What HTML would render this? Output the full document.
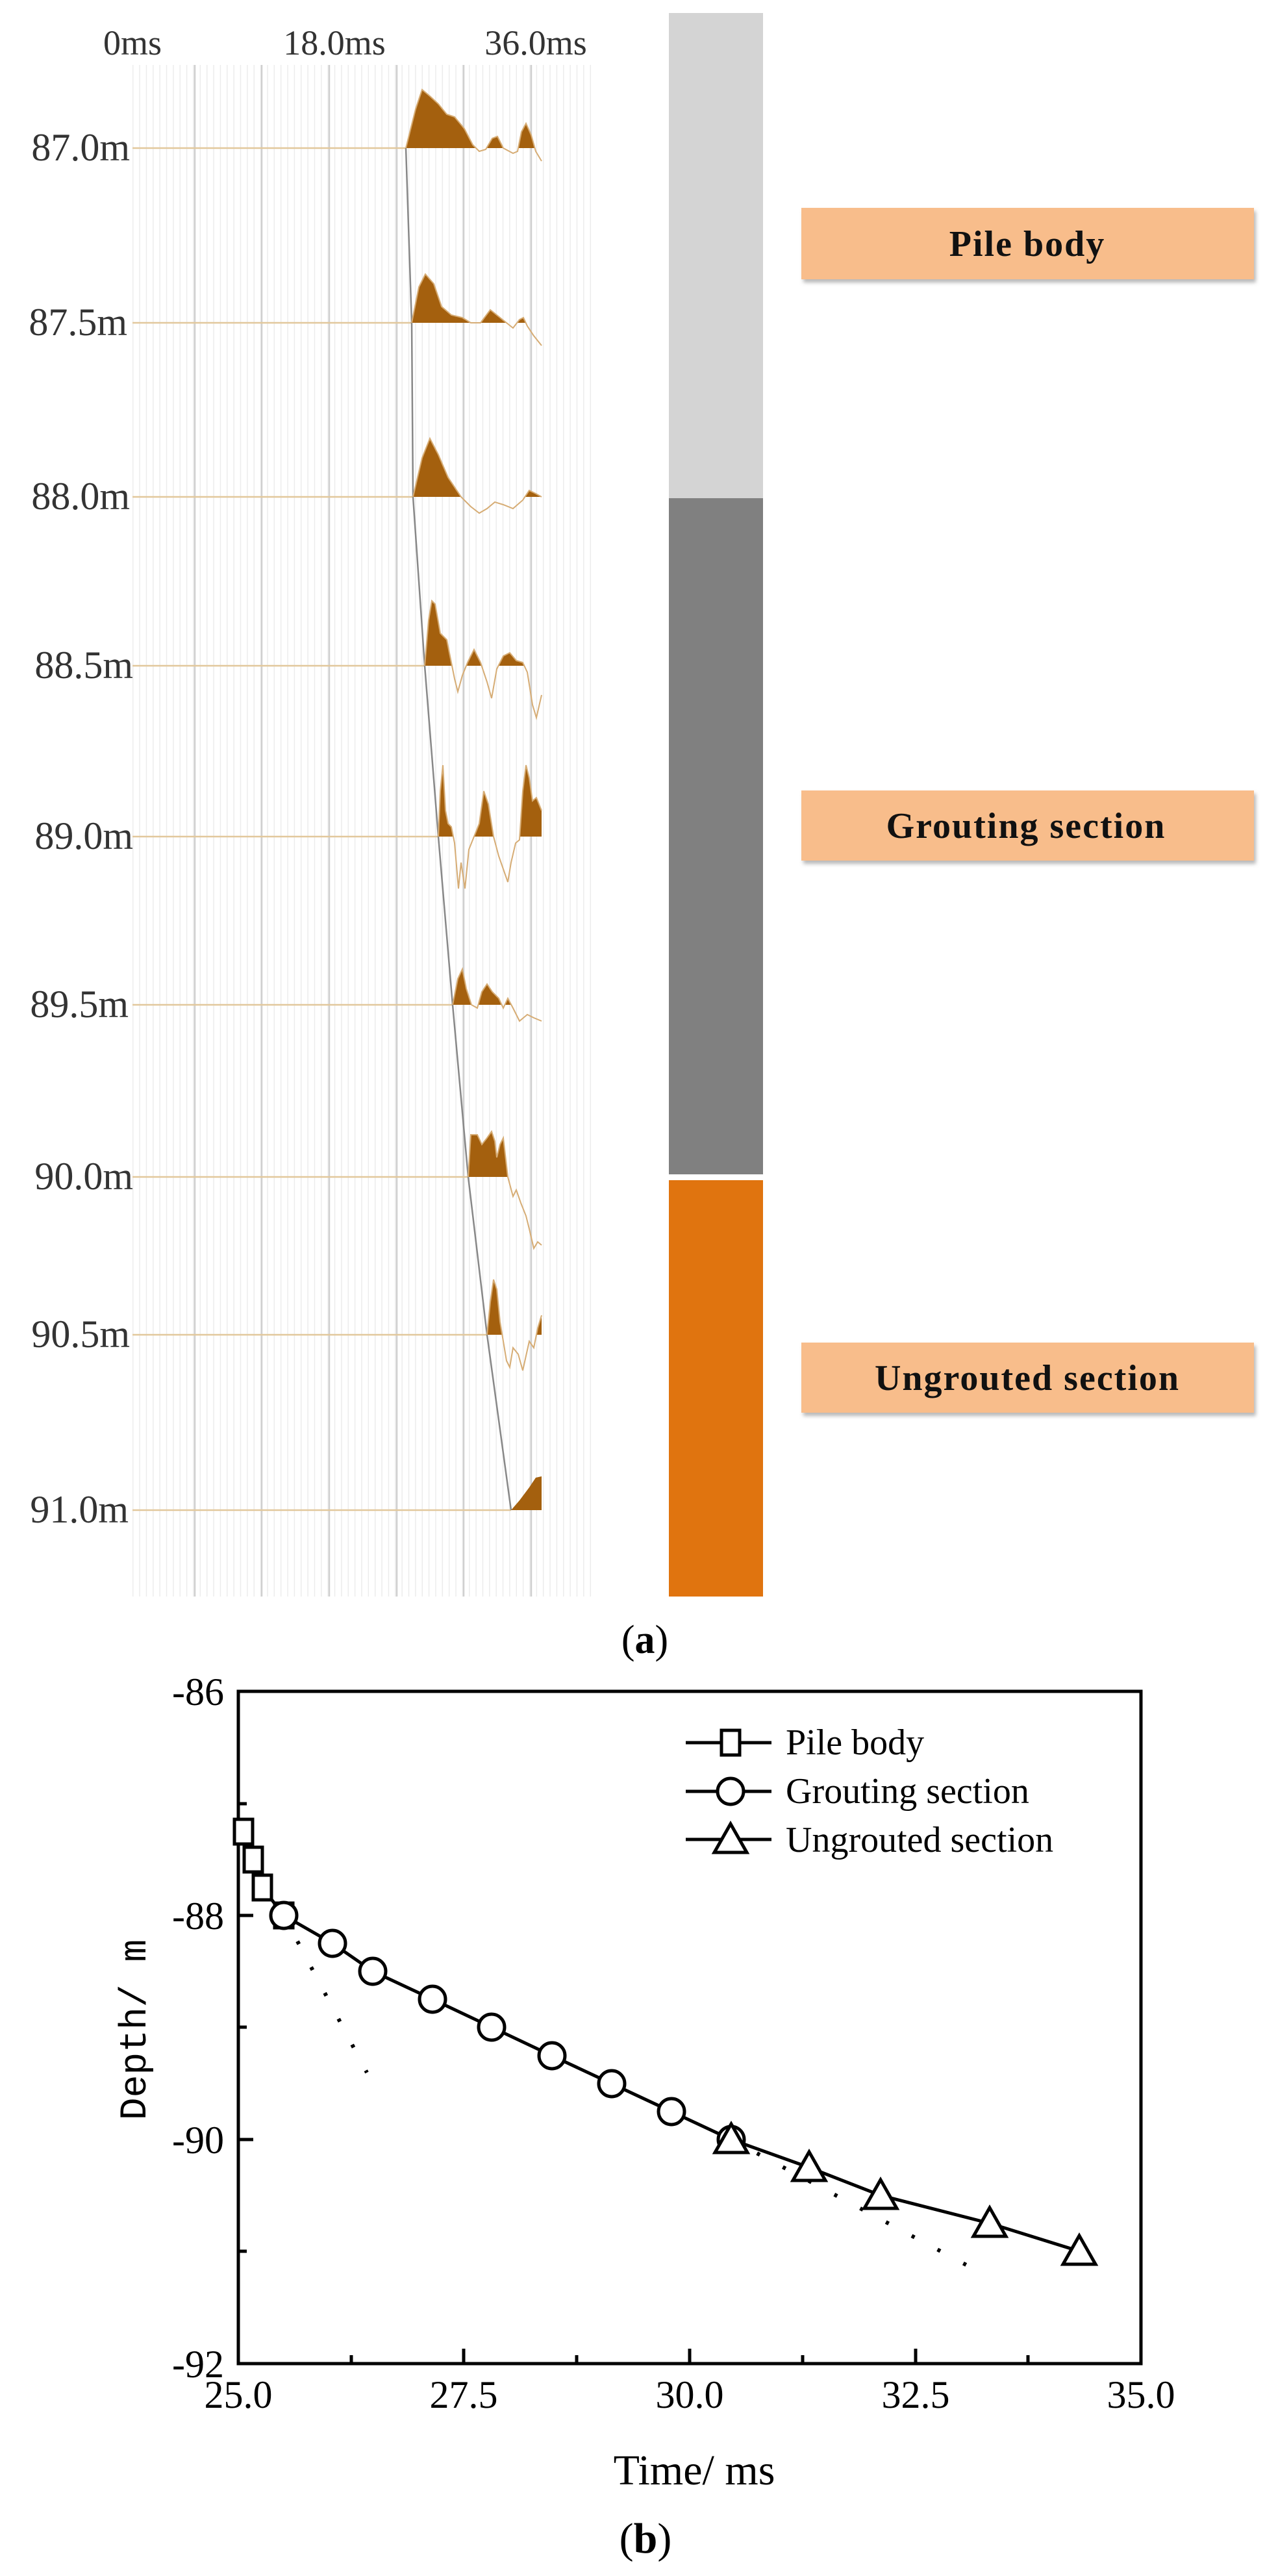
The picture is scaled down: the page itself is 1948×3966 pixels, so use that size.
<!DOCTYPE html>
<html><head><meta charset="utf-8"><style>
html,body{margin:0;padding:0;background:#fff}
svg{display:block}
</style></head><body>
<svg width="1948" height="3966" viewBox="0 0 1948 3966" xmlns="http://www.w3.org/2000/svg">
<defs>
<pattern id="minor" x="204" y="0" width="10.36" height="10" patternUnits="userSpaceOnUse">
<rect x="0" y="0" width="1.5" height="10" fill="#ececec"/>
</pattern>
<filter id="sh" x="-5%" y="-20%" width="115%" height="160%"><feDropShadow dx="3" dy="5" stdDeviation="3" flood-color="#888" flood-opacity="0.6"/></filter>
</defs>
<rect x="204" y="100" width="708" height="2358" fill="url(#minor)"/>
<g stroke="#cfcfcf" stroke-width="2.5">
<line x1="300" y1="100" x2="300" y2="2458"/><line x1="403" y1="100" x2="403" y2="2458"/>
<line x1="507" y1="100" x2="507" y2="2458"/><line x1="611" y1="100" x2="611" y2="2458"/>
<line x1="714" y1="100" x2="714" y2="2458"/><line x1="818" y1="100" x2="818" y2="2458"/>
</g>
<g font-family="Liberation Serif, serif" font-size="54" fill="#333">
<text x="204" y="84" text-anchor="middle">0ms</text>
<text x="515" y="84" text-anchor="middle">18.0ms</text>
<text x="825" y="84" text-anchor="middle">36.0ms</text>
</g>
<g font-family="Liberation Serif, serif" font-size="60" fill="#333" text-anchor="end">
<text x="200" y="247">87.0m</text><text x="196" y="516">87.5m</text>
<text x="200" y="784">88.0m</text><text x="205" y="1044">88.5m</text>
<text x="205" y="1307">89.0m</text><text x="198" y="1566">89.5m</text>
<text x="205" y="1831">90.0m</text><text x="200" y="2074">90.5m</text>
<text x="198" y="2344">91.0m</text>
</g>
<g stroke="#e2c89c" stroke-width="2.5">
<line x1="204" y1="228" x2="625" y2="228"/><line x1="204" y1="497" x2="634" y2="497"/>
<line x1="204" y1="765" x2="636" y2="765"/><line x1="204" y1="1025" x2="654" y2="1025"/>
<line x1="204" y1="1288" x2="675" y2="1288"/><line x1="204" y1="1547" x2="697" y2="1547"/>
<line x1="204" y1="1812" x2="721" y2="1812"/><line x1="204" y1="2055" x2="750" y2="2055"/>
<line x1="204" y1="2325" x2="787" y2="2325"/>
</g>
<polyline fill="none" stroke="#888" stroke-width="2.5" points="625,228 634,497 636,765 654,1025 675,1288 697,1547 721,1812 750,2055 787,2325"/>
<clipPath id="c1"><rect x="600" y="100" width="240" height="128"/></clipPath>
<clipPath id="c2"><rect x="600" y="370" width="240" height="127"/></clipPath>
<clipPath id="c3"><rect x="600" y="640" width="240" height="125"/></clipPath>
<clipPath id="c4"><rect x="600" y="900" width="240" height="125"/></clipPath>
<clipPath id="c5"><rect x="600" y="1150" width="240" height="138"/></clipPath>
<clipPath id="c6"><rect x="600" y="1450" width="240" height="97"/></clipPath>
<clipPath id="c7"><rect x="600" y="1700" width="240" height="112"/></clipPath>
<clipPath id="c8"><rect x="600" y="1950" width="240" height="105"/></clipPath>
<clipPath id="c9"><rect x="600" y="2250" width="240" height="75"/></clipPath>
<g fill="#a4600e">
<polygon clip-path="url(#c1)" points="625,228 640,168 650,138 662,148 675,160 688,176 700,180 715,198 728,223 738,233 748,230 758,213 766,210 775,228 790,236 797,233 803,203 810,190 818,208 825,233 834,248 834,228"/>
<polygon clip-path="url(#c2)" points="634,497 645,442 655,422 668,437 680,472 695,485 712,489 725,497 740,497 755,477 765,485 780,497 790,505 800,492 806,489 812,502 822,517 834,532 834,497"/>
<polygon clip-path="url(#c3)" points="636,765 650,705 662,675 675,700 690,735 710,765 725,780 738,790 750,783 762,773 775,777 790,783 805,770 815,755 825,760 834,765"/>
<polygon clip-path="url(#c4)" points="654,1025 660,955 665,925 670,930 678,975 688,985 695,1020 700,1045 705,1065 712,1040 720,1020 730,1000 740,1020 750,1050 757,1075 765,1030 775,1010 785,1005 795,1017 805,1020 812,1035 820,1085 826,1105 834,1070 834,1025"/>
<polygon clip-path="url(#c5)" points="675,1288 678,1218 682,1178 686,1248 690,1268 695,1273 700,1298 706,1368 710,1328 716,1368 722,1308 730,1288 738,1268 745,1218 752,1238 760,1288 768,1318 775,1338 782,1358 787,1328 794,1298 800,1293 805,1218 810,1178 815,1198 820,1233 826,1228 830,1238 834,1248 834,1288"/>
<polygon clip-path="url(#c6)" points="697,1547 705,1507 712,1492 718,1522 726,1547 735,1552 742,1527 750,1515 758,1527 768,1537 775,1552 782,1537 790,1552 800,1572 812,1562 822,1567 834,1572 834,1547"/>
<polygon clip-path="url(#c7)" points="721,1812 725,1747 735,1747 742,1762 750,1752 757,1742 762,1757 765,1782 770,1762 775,1752 782,1812 790,1842 795,1832 802,1852 810,1872 815,1892 822,1922 828,1912 834,1917 834,1812"/>
<polygon clip-path="url(#c8)" points="750,2055 755,2005 760,1970 765,1985 770,2035 775,2065 780,2095 785,2105 790,2075 798,2085 805,2110 815,2065 822,2075 828,2045 834,2025 834,2055"/>
<polygon clip-path="url(#c9)" points="787,2325 800,2310 815,2290 825,2275 834,2273 834,2325"/>
</g>
<g fill="none" stroke="#d6ac74" stroke-width="2">
<polyline points="625,228 640,168 650,138 662,148 675,160 688,176 700,180 715,198 728,223 738,233 748,230 758,213 766,210 775,228 790,236 797,233 803,203 810,190 818,208 825,233 834,248"/>
<polyline points="634,497 645,442 655,422 668,437 680,472 695,485 712,489 725,497 740,497 755,477 765,485 780,497 790,505 800,492 806,489 812,502 822,517 834,532"/>
<polyline points="636,765 650,705 662,675 675,700 690,735 710,765 725,780 738,790 750,783 762,773 775,777 790,783 805,770 815,755 825,760 834,765"/>
<polyline points="654,1025 660,955 665,925 670,930 678,975 688,985 695,1020 700,1045 705,1065 712,1040 720,1020 730,1000 740,1020 750,1050 757,1075 765,1030 775,1010 785,1005 795,1017 805,1020 812,1035 820,1085 826,1105 834,1070"/>
<polyline points="675,1288 678,1218 682,1178 686,1248 690,1268 695,1273 700,1298 706,1368 710,1328 716,1368 722,1308 730,1288 738,1268 745,1218 752,1238 760,1288 768,1318 775,1338 782,1358 787,1328 794,1298 800,1293 805,1218 810,1178 815,1198 820,1233 826,1228 830,1238 834,1248"/>
<polyline points="697,1547 705,1507 712,1492 718,1522 726,1547 735,1552 742,1527 750,1515 758,1527 768,1537 775,1552 782,1537 790,1552 800,1572 812,1562 822,1567 834,1572"/>
<polyline points="721,1812 725,1747 735,1747 742,1762 750,1752 757,1742 762,1757 765,1782 770,1762 775,1752 782,1812 790,1842 795,1832 802,1852 810,1872 815,1892 822,1922 828,1912 834,1917"/>
<polyline points="750,2055 755,2005 760,1970 765,1985 770,2035 775,2065 780,2095 785,2105 790,2075 798,2085 805,2110 815,2065 822,2075 828,2045 834,2025"/>
</g>
<rect x="1030" y="20" width="145" height="747" fill="#d4d4d4"/>
<rect x="1030" y="767" width="145" height="1041" fill="#808080"/>
<rect x="1030" y="1817" width="145" height="641" fill="#e0740f"/>
<g filter="url(#sh)" fill="#f8bd8b">
<rect x="1234" y="320" width="697" height="110"/>
<rect x="1234" y="1217" width="697" height="108"/>
<rect x="1234" y="2067" width="697" height="108"/>
</g>
<g font-family="Liberation Serif, serif" font-weight="bold" font-size="56" fill="#111" text-anchor="middle" letter-spacing="2">
<text x="1582" y="394">Pile body</text>
<text x="1580" y="1290">Grouting section</text>
<text x="1582" y="2140">Ungrouted section</text>
</g>
<text x="993" y="2545" font-family="Liberation Serif, serif" font-size="62" text-anchor="middle" fill="#000">(<tspan font-weight="bold">a</tspan>)</text>

<rect x="367" y="2604" width="1390" height="1035" fill="none" stroke="#000" stroke-width="5"/>
<g stroke="#000" stroke-width="5">
<line x1="367" y1="2777" x2="380" y2="2777"/><line x1="367" y1="2949" x2="390" y2="2949"/>
<line x1="367" y1="3121" x2="380" y2="3121"/><line x1="367" y1="3294" x2="390" y2="3294"/>
<line x1="367" y1="3466" x2="380" y2="3466"/>
<line x1="541" y1="3639" x2="541" y2="3626"/><line x1="714" y1="3639" x2="714" y2="3616"/>
<line x1="888" y1="3639" x2="888" y2="3626"/><line x1="1062" y1="3639" x2="1062" y2="3616"/>
<line x1="1236" y1="3639" x2="1236" y2="3626"/><line x1="1410" y1="3639" x2="1410" y2="3616"/>
<line x1="1583" y1="3639" x2="1583" y2="3626"/>
</g>
<g font-family="Liberation Serif, serif" font-size="60" fill="#000" text-anchor="end">
<text x="345" y="2625">-86</text><text x="345" y="2970">-88</text>
<text x="345" y="3315">-90</text><text x="345" y="3660">-92</text>
</g>
<g font-family="Liberation Serif, serif" font-size="60" fill="#000" text-anchor="middle">
<text x="367" y="3707">25.0</text><text x="714" y="3707">27.5</text>
<text x="1062" y="3707">30.0</text><text x="1410" y="3707">32.5</text>
<text x="1757" y="3707">35.0</text>
</g>
<text x="1069" y="3825" font-family="Liberation Serif, serif" font-size="66" text-anchor="middle">Time/ ms</text>
<text transform="translate(224,3125) rotate(-90)" font-family="Liberation Mono, monospace" font-size="58" text-anchor="middle">Depth/ m</text>
<text x="994" y="3930" font-family="Liberation Serif, serif" font-size="66" text-anchor="middle">(<tspan font-weight="bold">b</tspan>)</text>
<g stroke="#000" stroke-width="6" stroke-dasharray="5 40" fill="none">
<line x1="437" y1="2949" x2="565" y2="3191"/>
<line x1="1126" y1="3294" x2="1516" y2="3502"/>
</g>
<polyline fill="none" stroke="#000" stroke-width="5" points="375,2820 390,2863 404,2906 437,2949 512,2992 574,3035 666,3078 757,3121 850,3165 942,3208 1034,3251 1126,3294 1246,3337 1356,3380 1524,3423 1662,3466"/>
<g fill="#fff" stroke="#000" stroke-width="5">
<rect x="361" y="2801" width="28" height="38"/>
<rect x="376" y="2844" width="28" height="38"/>
<rect x="390" y="2887" width="28" height="38"/>
<rect x="423" y="2930" width="28" height="38"/>
<ellipse cx="437" cy="2949" rx="20" ry="20"/>
<ellipse cx="512" cy="2992" rx="20" ry="20"/>
<ellipse cx="574" cy="3035" rx="20" ry="20"/>
<ellipse cx="666" cy="3078" rx="20" ry="20"/>
<ellipse cx="757" cy="3121" rx="20" ry="20"/>
<ellipse cx="850" cy="3165" rx="20" ry="20"/>
<ellipse cx="942" cy="3208" rx="20" ry="20"/>
<ellipse cx="1034" cy="3251" rx="20" ry="20"/>
<ellipse cx="1126" cy="3294" rx="20" ry="20"/>
<polygon points="1126,3270 1101,3314 1151,3314"/>
<polygon points="1246,3313 1221,3357 1271,3357"/>
<polygon points="1356,3356 1331,3400 1381,3400"/>
<polygon points="1524,3399 1499,3443 1549,3443"/>
<polygon points="1662,3442 1637,3486 1687,3486"/>
</g>
<g stroke="#000" stroke-width="5">
<line x1="1056" y1="2683" x2="1188" y2="2683"/>
<line x1="1056" y1="2758" x2="1188" y2="2758"/>
<line x1="1056" y1="2832" x2="1188" y2="2832"/>
</g>
<g fill="#fff" stroke="#000" stroke-width="5">
<rect x="1111" y="2664" width="28" height="38"/>
<ellipse cx="1125" cy="2758" rx="20" ry="20"/>
<polygon points="1125,2808 1100,2852 1150,2852"/>
</g>
<g font-family="Liberation Serif, serif" font-size="56" fill="#000">
<text x="1210" y="2701">Pile body</text>
<text x="1210" y="2776">Grouting section</text>
<text x="1210" y="2851">Ungrouted section</text>
</g>
</svg>
</body></html>
